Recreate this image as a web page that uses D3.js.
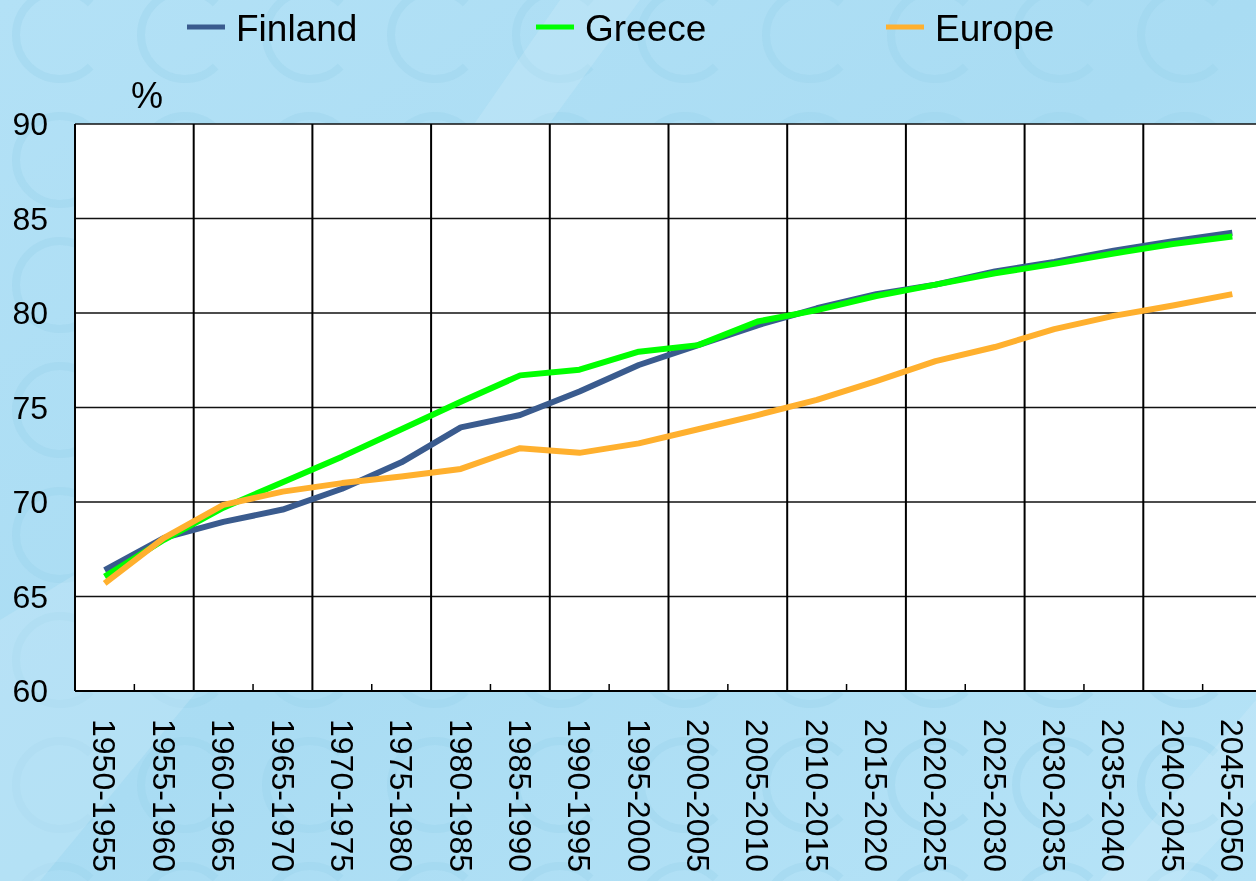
<!DOCTYPE html>
<html>
<head>
<meta charset="utf-8">
<script src="https://cdn.jsdelivr.net/npm/d3@7"></script>
<style>
  html, body { margin: 0; padding: 0; overflow: hidden; }
  body { width: 1256px; height: 881px; font-family: "Liberation Sans", Arial, sans-serif; }
</style>
</head>
<body>
<div id="chart"></div>
<script>
// periods on the x axis
const periods = ["1950-1955", "1955-1960", "1960-1965", "1965-1970", "1970-1975",
  "1975-1980", "1980-1985", "1985-1990", "1990-1995", "1995-2000", "2000-2005",
  "2005-2010", "2010-2015", "2015-2020", "2020-2025", "2025-2030", "2030-2035",
  "2035-2040", "2040-2045", "2045-2050"];

// values (%)
const finland = [66.4, 68.1, 68.95, 69.6, 70.7, 72.1, 73.95, 74.6, 75.85, 77.25,
  78.3, 79.35, 80.25, 81.0, 81.5, 82.2, 82.7, 83.3, 83.8, 84.25];
const greece = [66.05, 68.0, 69.7, 71.05, 72.4, 73.85, 75.3, 76.7, 77.0, 77.95,
  78.3, 79.55, 80.15, 80.9, 81.5, 82.1, 82.6, 83.15, 83.65, 84.05];
const europe = [65.7, 68.1, 69.85, 70.55, 71.0, 71.35, 71.75, 72.85, 72.6, 73.1,
  73.85, 74.6, 75.4, 76.4, 77.45, 78.2, 79.15, 79.85, 80.4, 81.0];

const yTicks = [60, 65, 70, 75, 80, 85, 90];

const seriesNames = ["Finland", "Greece", "Europe"];
const seriesColors = ["#3a5b8e", "#00ff00", "#ffb02e"];
const seriesData = [finland, greece, europe];

const W = 1256, H = 881;
const plot = { left: 75, right: 1262, top: 124, bottom: 691 };

const svg = d3.select("#chart").append("svg")
  .attr("width", W)
  .attr("height", H);

// background, light blue with faint rings
const defs = svg.append("defs");
const bg = defs.append("linearGradient").attr("id", "bg")
  .attr("x1", 0).attr("y1", 0).attr("x2", 1).attr("y2", 1);
bg.append("stop").attr("offset", "0%").attr("stop-color", "#b3e1f6");
bg.append("stop").attr("offset", "50%").attr("stop-color", "#a9dcf3");
bg.append("stop").attr("offset", "100%").attr("stop-color", "#b6e3f7");

svg.append("rect").attr("width", W).attr("height", H).attr("fill", "url(#bg)");

const ringArc = d3.arc()({ innerRadius: 44, outerRadius: 44,
  startAngle: Math.PI / 2 + 0.8, endAngle: Math.PI / 2 + 2 * Math.PI - 0.8 });
const rings = svg.append("g").attr("fill", "none")
  .attr("stroke", "#9dd4ec").attr("stroke-width", 8).attr("opacity", 0.45);
for (let r = 0; r < 8; r++) {
  for (let c = 0; c < 11; c++) {
    rings.append("path")
      .attr("d", ringArc)
      .attr("transform", "translate(" + (60 + c * 125) + "," + (35 + r * 125) + ")");
  }
}
// soft diagonal streaks
const streaks = svg.append("g").attr("opacity", 0.25);
streaks.append("path").attr("d", "M0,620 L330,420 L380,470 L40,881 L0,881 Z").attr("fill", "#d6f0fb");
streaks.append("path").attr("d", "M560,0 L640,0 L420,300 L380,260 Z").attr("fill", "#d6f0fb");
streaks.append("path").attr("d", "M1100,881 L1256,700 L1256,800 L1180,881 Z").attr("fill", "#d6f0fb");

// scales
const x = d3.scaleBand().domain(periods).range([plot.left, plot.right]).padding(0);
const y = d3.scaleLinear().domain([60, 90]).range([plot.bottom, plot.top]);

// plot area
svg.append("rect")
  .attr("x", plot.left).attr("y", plot.top)
  .attr("width", plot.right - plot.left).attr("height", plot.bottom - plot.top)
  .attr("fill", "#ffffff");

// horizontal gridlines
svg.append("g").selectAll("line")
  .data(yTicks.filter(d => d > 60))
  .enter().append("line")
  .attr("x1", plot.left).attr("x2", plot.right)
  .attr("y1", d => y(d)).attr("y2", d => y(d))
  .attr("stroke", "#111").attr("stroke-width", 1.6);

// vertical gridlines every two periods, small ticks between
const bounds = d3.range(1, periods.length).map(i => ({ i: i, x: x(periods[i]) }));
svg.append("g").selectAll("line")
  .data(bounds.filter(d => d.i % 2 === 0))
  .enter().append("line")
  .attr("x1", d => d.x).attr("x2", d => d.x)
  .attr("y1", plot.top).attr("y2", plot.bottom)
  .attr("stroke", "#000").attr("stroke-width", 2);
svg.append("g").selectAll("line")
  .data(bounds.filter(d => d.i % 2 === 1))
  .enter().append("line")
  .attr("x1", d => d.x).attr("x2", d => d.x)
  .attr("y1", plot.bottom - 7).attr("y2", plot.bottom)
  .attr("stroke", "#000").attr("stroke-width", 1.5);

// axes lines
svg.append("line")
  .attr("x1", plot.left).attr("x2", plot.left)
  .attr("y1", plot.top).attr("y2", plot.bottom)
  .attr("stroke", "#000").attr("stroke-width", 2);
svg.append("line")
  .attr("x1", plot.left).attr("x2", plot.right)
  .attr("y1", plot.bottom).attr("y2", plot.bottom)
  .attr("stroke", "#000").attr("stroke-width", 2);

// y tick labels
svg.append("g").selectAll("text")
  .data(yTicks)
  .enter().append("text")
  .attr("x", 48)
  .attr("y", d => y(d))
  .attr("dy", "0.35em")
  .attr("text-anchor", "end")
  .attr("font-size", 32)
  .attr("fill", "#000")
  .text(d => d);

svg.append("text")
  .attr("x", 131).attr("y", 108)
  .attr("font-size", 36)
  .attr("fill", "#000")
  .text("%");

// x labels, rotated to read downwards
svg.append("g").selectAll("text")
  .data(periods)
  .enter().append("text")
  .attr("transform", d => "translate(" + (x(d) + x.bandwidth() / 2) + ",719) rotate(90)")
  .attr("dy", "0.35em")
  .attr("font-size", 32)
  .attr("fill", "#000")
  .text(d => d);

// lines
const line = d3.line()
  .x((d, i) => x(periods[i]) + x.bandwidth() / 2)
  .y(d => y(d));

svg.append("g").selectAll("path")
  .data(seriesData)
  .enter().append("path")
  .attr("d", d => line(d))
  .attr("fill", "none")
  .attr("stroke", (d, i) => seriesColors[i])
  .attr("stroke-width", 6)
  .attr("stroke-linejoin", "round");

// legend
const legendX = [187, 536, 886];
const legend = svg.append("g").selectAll("g")
  .data(seriesNames)
  .enter().append("g")
  .attr("transform", (d, i) => "translate(" + legendX[i] + ",27)");
legend.append("line")
  .attr("x1", 0).attr("x2", 38)
  .attr("stroke", (d, i) => seriesColors[i])
  .attr("stroke-width", 5);
legend.append("text")
  .attr("x", 49).attr("y", 14)
  .attr("font-size", 37)
  .attr("fill", "#000")
  .text(d => d);
</script>
</body>
</html>
